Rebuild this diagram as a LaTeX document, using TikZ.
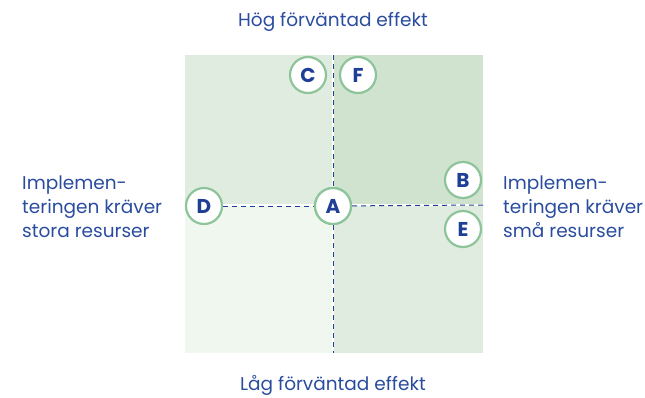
\documentclass[tikz,border=0pt]{standalone}
\usepackage{fontspec}
\setmainfont{Poppins}
\definecolor{qa}{HTML}{E0ECDF}
\definecolor{qb}{HTML}{D0E3CF}
\definecolor{qc}{HTML}{F0F7EF}
\definecolor{ringc}{HTML}{8DC49A}
\definecolor{letc}{HTML}{1F3E96}
\definecolor{txtc}{HTML}{2A4C9E}
\begin{document}
\begin{tikzpicture}[x=1pt,y=-1pt,
  letter/.style={circle,draw=ringc,line width=2.2pt,fill=white,minimum size=36pt,inner sep=0pt,
    text=letc,font=\fontsize{20}{20}\selectfont\bfseries},
  lbl/.style={text=txtc,font=\fontsize{18.5}{24}\selectfont,inner sep=0pt},
  dashline/.style={letc,line width=1pt,dash pattern=on 5pt off 4pt}]
\useasboundingbox (0,0) rectangle (645,397);
\fill[qa] (185,55) rectangle (333,205);
\fill[qb] (333,55) rectangle (483,205);
\fill[qc] (185,205) rectangle (333,353);
\fill[qa] (333,205) rectangle (483,353);
\draw[white,line width=1.6pt] (333,55) -- (333,353);
\draw[white,line width=1.6pt] (185,205) -- (483,205);
\coordinate (top) at (333,55);
\coordinate (bot) at (333,353);
\coordinate (right) at (483,205);
\node[letter] (C) at (308,75) {C};
\node[letter] (F) at (358,75) {F};
\node[letter] (B) at (463,180) {B};
\node[letter] (E) at (463,229) {E};
\node[letter] (D) at (204,206) {D};
\node[letter] (A) at (333,206) {A};
\draw[dashline] (top) -- (A);
\draw[dashline] (A) -- (bot);
\draw[dashline] (D) -- (A);
\draw[dashline] (A) -- (right);
\node[letter] at (A) {A};
\node[lbl] (hog) at (333,22) {Hög förväntad effekt};
\node[lbl] (lag) at (333,385) {Låg förväntad effekt};
\node[lbl,anchor=west,align=left] (left) at (22,207) {Implemen-\\teringen kräver\\stora resurser};
\node[lbl,anchor=west,align=left] (rightt) at (503,207) {Implemen-\\teringen kräver\\små resurser};
\end{tikzpicture}
\end{document}
